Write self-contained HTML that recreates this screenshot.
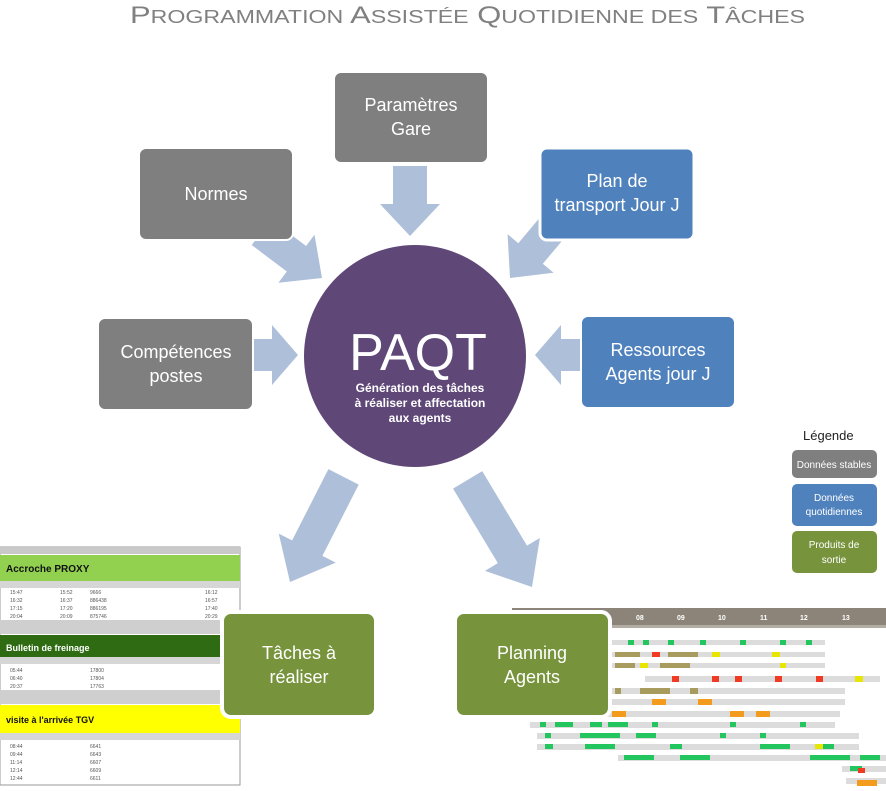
<!DOCTYPE html>
<html><head><meta charset="utf-8"><style>
html,body{margin:0;padding:0;background:#fff;}
body{width:886px;height:791px;overflow:hidden;position:relative;font-family:"Liberation Sans",sans-serif;}
svg{position:absolute;left:0;top:0}
</style></head><body>
<svg width="886" height="791" viewBox="0 0 886 791" font-family="Liberation Sans, sans-serif">
<text x="130" y="23" textLength="675" lengthAdjust="spacingAndGlyphs" font-size="24" fill="#808080">P<tspan font-size="18">ROGRAMMATION</tspan> A<tspan font-size="18">SSISTÉE</tspan> Q<tspan font-size="18">UOTIDIENNE DES</tspan> T<tspan font-size="18">ÂCHES</tspan></text>

<!-- left tables image -->
<g font-size="5" fill="#333">
<rect x="0" y="547" width="240" height="238" fill="#fff" stroke="#999"/>
<rect x="0" y="547" width="240" height="7" fill="#c9c9c9"/>
<rect x="0" y="555" width="240" height="26" fill="#92d050"/>
<text x="6" y="572" font-size="10" font-weight="bold" fill="#111">Accroche PROXY</text>
<rect x="0" y="581" width="240" height="7" fill="#d6d6d6"/>
<g fill="#555"><text x="10" y="594">15:47</text><text x="10" y="602">16:32</text><text x="10" y="610">17:15</text><text x="10" y="618">20:04</text>
<text x="60" y="594">15:52</text><text x="60" y="602">16:37</text><text x="60" y="610">17:20</text><text x="60" y="618">20:09</text>
<text x="90" y="594">9666</text><text x="90" y="602">886438</text><text x="90" y="610">886195</text><text x="90" y="618">875746</text>
<text x="205" y="594">16:12</text><text x="205" y="602">16:57</text><text x="205" y="610">17:40</text><text x="205" y="618">20:29</text></g>
<rect x="0" y="620" width="240" height="14" fill="#cfcfcf"/>
<rect x="0" y="635" width="240" height="22" fill="#2e6b12"/>
<text x="6" y="651" font-size="9" font-weight="bold" fill="#fff">Bulletin de freinage</text>
<rect x="0" y="657" width="240" height="7" fill="#d6d6d6"/>
<g fill="#555"><text x="10" y="672">05:44</text><text x="10" y="680">06:40</text><text x="10" y="688">20:37</text>
<text x="90" y="672">17800</text><text x="90" y="680">17804</text><text x="90" y="688">17763</text></g>
<rect x="0" y="690" width="240" height="14" fill="#cfcfcf"/>
<rect x="0" y="705" width="240" height="28" fill="#ffff00"/>
<text x="6" y="723" font-size="9" font-weight="bold" fill="#111">visite à l'arrivée TGV</text>
<rect x="0" y="733" width="240" height="7" fill="#d6d6d6"/>
<g fill="#555"><text x="10" y="748">08:44</text><text x="10" y="756">09:44</text><text x="10" y="764">11:14</text><text x="10" y="772">12:14</text><text x="10" y="780">12:44</text>
<text x="90" y="748">6641</text><text x="90" y="756">6643</text><text x="90" y="764">6607</text><text x="90" y="772">6609</text><text x="90" y="780">6611</text></g>
</g>

<!-- planning image -->
<g>
<rect x="512" y="608" width="374" height="17" fill="#8c8478"/>
<g font-size="7" fill="#fff" font-weight="bold"><text x="636" y="620">08</text><text x="677" y="620">09</text><text x="718" y="620">10</text><text x="760" y="620">11</text><text x="800" y="620">12</text><text x="842" y="620">13</text></g>
<rect x="512" y="625" width="374" height="3" fill="#b3ada3"/>
<g fill="#dcdcdc">
<rect x="600" y="640" width="225" height="5"/><rect x="600" y="652" width="225" height="5"/><rect x="600" y="663" width="225" height="5"/>
<rect x="645" y="676" width="235" height="6"/><rect x="600" y="688" width="245" height="6"/><rect x="600" y="699" width="245" height="6"/>
<rect x="600" y="711" width="240" height="6"/><rect x="530" y="722" width="305" height="6"/><rect x="537" y="733" width="322" height="6"/>
<rect x="537" y="744" width="322" height="6"/><rect x="618" y="755" width="268" height="6"/><rect x="842" y="766" width="44" height="6"/><rect x="846" y="778" width="40" height="6"/>
</g>
<g fill="#22c55e">
<rect x="628" y="640" width="6" height="5"/><rect x="643" y="640" width="6" height="5"/><rect x="668" y="640" width="6" height="5"/><rect x="700" y="640" width="6" height="5"/><rect x="740" y="640" width="6" height="5"/><rect x="780" y="640" width="6" height="5"/><rect x="806" y="640" width="6" height="5"/>
<rect x="540" y="722" width="6" height="5"/><rect x="555" y="722" width="18" height="5"/><rect x="590" y="722" width="12" height="5"/><rect x="608" y="722" width="20" height="5"/><rect x="652" y="722" width="6" height="5"/><rect x="730" y="722" width="6" height="5"/><rect x="800" y="722" width="6" height="5"/>
<rect x="545" y="733" width="6" height="5"/><rect x="580" y="733" width="40" height="5"/><rect x="636" y="733" width="20" height="5"/><rect x="720" y="733" width="6" height="5"/><rect x="760" y="733" width="6" height="5"/>
<rect x="545" y="744" width="8" height="5"/><rect x="585" y="744" width="30" height="5"/><rect x="670" y="744" width="12" height="5"/><rect x="760" y="744" width="30" height="5"/><rect x="820" y="744" width="14" height="5"/>
<rect x="624" y="755" width="30" height="5"/><rect x="680" y="755" width="30" height="5"/><rect x="810" y="755" width="40" height="5"/><rect x="860" y="755" width="20" height="5"/>
<rect x="850" y="766" width="12" height="5"/>
</g>
<g fill="#f29b1d"><rect x="652" y="699" width="14" height="6"/><rect x="698" y="699" width="14" height="6"/><rect x="730" y="711" width="14" height="6"/><rect x="756" y="711" width="14" height="6"/><rect x="612" y="711" width="14" height="6"/><rect x="857" y="780" width="20" height="6"/></g>
<g fill="#ef3b24"><rect x="652" y="652" width="8" height="5"/><rect x="672" y="676" width="7" height="6"/><rect x="712" y="676" width="7" height="6"/><rect x="735" y="676" width="7" height="6"/><rect x="775" y="676" width="7" height="6"/><rect x="816" y="676" width="7" height="6"/><rect x="858" y="768" width="7" height="5"/></g>
<g fill="#e6e600"><rect x="712" y="652" width="8" height="5"/><rect x="772" y="652" width="8" height="5"/><rect x="640" y="663" width="8" height="5"/><rect x="780" y="663" width="6" height="5"/><rect x="855" y="676" width="8" height="6"/><rect x="815" y="744" width="8" height="5"/></g>
<g fill="#a89b5e"><rect x="615" y="652" width="25" height="5"/><rect x="668" y="652" width="30" height="5"/><rect x="615" y="663" width="20" height="5"/><rect x="660" y="663" width="30" height="5"/><rect x="615" y="688" width="6" height="6"/><rect x="640" y="688" width="30" height="6"/><rect x="690" y="688" width="8" height="6"/></g>
</g>

<!-- arrows -->
<g fill="#aebfd9">
<g transform="translate(410,236) rotate(90)"><polygon points="-70,-17 -32,-17 -32,-30 0,0 -32,30 -32,17 -70,17"/></g>
<g transform="translate(322,278) rotate(37)"><polygon points="-76,-16 -32,-16 -32,-30 0,0 -32,30 -32,16 -76,16"/></g>
<g transform="translate(510,278) rotate(130)"><polygon points="-66,-16 -32,-16 -32,-30 0,0 -32,30 -32,16 -66,16"/></g>
<g transform="translate(298,355)"><polygon points="-45,-16 -26,-16 -26,-30 0,0 -26,30 -26,16 -45,16"/></g>
<g transform="translate(535,355) rotate(180)"><polygon points="-45,-16 -26,-16 -26,-30 0,0 -26,30 -26,16 -45,16"/></g>
<g transform="translate(290,582) rotate(117)"><polygon points="-118,-17 -38,-17 -38,-32 0,0 -38,32 -38,17 -118,17"/></g>
<g transform="translate(532,587) rotate(59)"><polygon points="-125,-17 -38,-17 -38,-32 0,0 -38,32 -38,17 -125,17"/></g>
</g>

<!-- circle -->
<circle cx="415" cy="356" r="111" fill="#5f4878"/>
<text x="418" y="370" text-anchor="middle" font-size="52" fill="#fff">PAQT</text>
<g font-size="12" fill="#fff" text-anchor="middle" font-weight="bold"><text x="420" y="392">Génération des tâches</text><text x="420" y="407">à réaliser et affectation</text><text x="420" y="422">aux agents</text></g>

<!-- boxes -->
<g font-size="18" fill="#fff" text-anchor="middle">
<rect x="334" y="72" width="154" height="91" rx="7" fill="#7f7f7f" stroke="#fff" stroke-width="2"/>
<text x="411" y="111">Paramètres</text><text x="411" y="135">Gare</text>
<rect x="139" y="148" width="154" height="92" rx="7" fill="#7f7f7f" stroke="#fff" stroke-width="2"/>
<text x="216" y="200">Normes</text>
<rect x="540" y="148" width="154" height="92" rx="7" fill="#4f81bd" stroke="#fff" stroke-width="3"/>
<text x="617" y="187">Plan de</text><text x="617" y="211">transport Jour J</text>
<rect x="98" y="318" width="155" height="92" rx="7" fill="#7f7f7f" stroke="#fff" stroke-width="2"/>
<text x="176" y="358">Compétences</text><text x="176" y="382">postes</text>
<rect x="581" y="316" width="154" height="92" rx="7" fill="#4f81bd" stroke="#fff" stroke-width="2"/>
<text x="658" y="356">Ressources</text><text x="658" y="380">Agents jour J</text>
<rect x="222" y="612" width="154" height="105" rx="9" fill="#77933c" stroke="#fff" stroke-width="4"/>
<text x="299" y="659">Tâches à</text><text x="299" y="683">réaliser</text>
<rect x="455" y="612" width="155" height="105" rx="9" fill="#77933c" stroke="#fff" stroke-width="4"/>
<text x="532" y="659">Planning</text><text x="532" y="683">Agents</text>
</g>

<!-- legend -->
<text x="803" y="440" font-size="13" fill="#222">Légende</text>
<g font-size="10" fill="#fff" text-anchor="middle">
<rect x="792" y="450" width="85" height="28" rx="5" fill="#7f7f7f"/><text x="834" y="468">Données stables</text>
<rect x="792" y="484" width="85" height="42" rx="5" fill="#4f81bd"/><text x="834" y="501">Données</text><text x="834" y="515">quotidiennes</text>
<rect x="792" y="531" width="85" height="42" rx="5" fill="#77933c"/><text x="834" y="548">Produits de</text><text x="834" y="563">sortie</text>
</g>
</svg>
</body></html>
